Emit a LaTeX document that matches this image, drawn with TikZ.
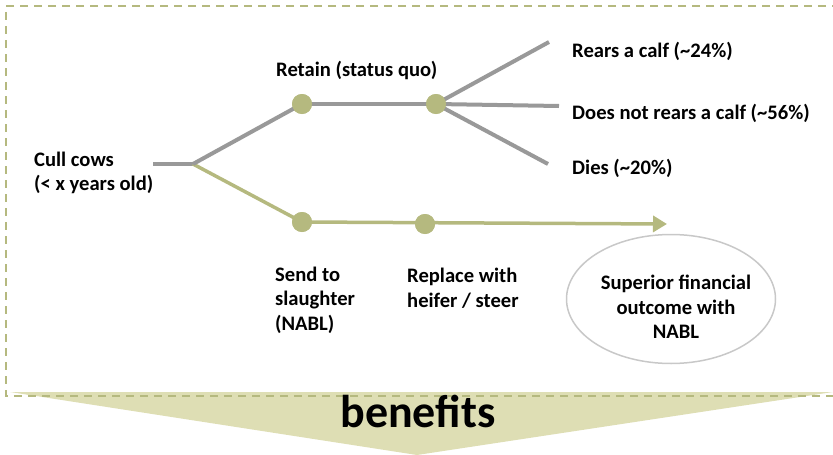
\documentclass[tikz,border=0pt]{standalone}
\usepackage{fontspec}
\setmainfont{Carlito}
\usetikzlibrary{arrows.meta,shapes.geometric}
\definecolor{olive}{HTML}{B5B97F}
\definecolor{olivefill}{HTML}{DEDEB4}
\definecolor{branchgray}{HTML}{999999}
\definecolor{ellgray}{HTML}{C8C8C8}
\tikzset{
  every node/.style={font=\bfseries\fontsize{20.6}{24.5}\selectfont, text=black},
  lbl/.style={align=left, anchor=west, inner sep=0pt},
  dot/.style={circle, fill=olive, minimum size=20pt, inner sep=0pt, draw=none},
  graybr/.style={draw=branchgray, line width=4pt},
  olivebr/.style={draw=olive, line width=3.5pt},
  border/.style={draw=olive, line width=1.5pt, dash pattern=on 8pt off 6pt},
}
\begin{document}
\begin{tikzpicture}[x=1pt,y=-1pt]
\useasboundingbox (0,0) rectangle (833,455);
% triangle arrow
\fill[olivefill] (10,392) -- (833,392) -- (417,455) -- cycle;
% dashed border
\draw[border] (840,6) -- (6,6) -- (6,396) -- (840,396);
\node[font=\bfseries\fontsize{46}{50}\selectfont, inner sep=0pt] (ben) at (418,411) {benefits};
% tree
\coordinate (s0) at (153,164);
\coordinate (s1) at (193,164);
\node[dot] (r1) at (302,104) {};
\node[dot] (r2) at (436,104) {};
\node[dot] (l1) at (302,222) {};
\node[dot] (l2) at (425,224) {};
\coordinate (e1) at (549,42);
\coordinate (e2) at (559,106);
\coordinate (e3) at (548,164);
\coordinate (ae) at (667,224);
\draw[graybr] (s0) -- (s1);
\draw[olivebr] (s1) -- (l1.center);
\draw[graybr] (s1) -- (r1.center);
\draw[olivebr, -{Triangle[length=14pt,width=16pt]}] (l1.center) -- (ae);
\draw[graybr] (r1.center) -- (r2.center);
\draw[graybr] (r2.center) -- (e1);
\draw[graybr] (r2.center) -- (e2);
\draw[graybr] (r2.center) -- (e3);
\node[dot] at (r1) {};
\node[dot] at (r2) {};
\node[dot] at (l1) {};
\node[dot] at (l2) {};
% labels
\node[lbl] (cull) at (34,173) {Cull cows\\(< x years old)};
\node[lbl] (retain) at (276,70) {Retain (status quo)};
\node[lbl] (t1) at (572,51) {Rears a calf (\textasciitilde24\%)};
\node[lbl] (t2) at (572,113) {Does not rears a calf (\textasciitilde56\%)};
\node[lbl] (t3) at (572,168) {Dies (\textasciitilde20\%)};
\node[lbl] (send) at (275,300) {Send to\\slaughter\\(NABL)};
\node[lbl] (repl) at (407,288) {Replace with\\heifer / steer};
\node[ellipse, draw=ellgray, line width=1.5pt, minimum width=209pt, minimum height=129pt, inner sep=0pt] (sup) at (671,299) {};
\node[align=center, inner sep=0pt] (suptext) at (676,307) {Superior financial\\outcome with\\NABL};
\end{tikzpicture}
\end{document}
